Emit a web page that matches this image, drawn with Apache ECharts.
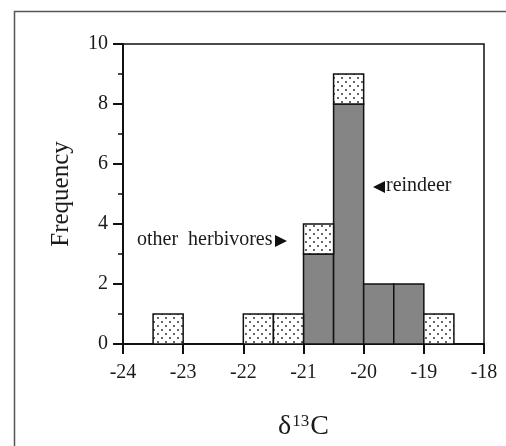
<!DOCTYPE html>
<html>
<head>
    <meta charset="utf-8">
    <title>d13C histogram</title>
    <script src="https://cdn.jsdelivr.net/npm/echarts@6/dist/echarts.min.js"></script>
    <style>
        html, body { margin: 0; padding: 0; background: #fff; }
        #chart { width: 506px; height: 446px; }
    </style>
</head>
<body>
<div id="chart"></div>
<script type="text/javascript">
    // bins (left edge, 0.5 wide) and counts
    var binStart = [-23.5, -22, -21.5, -21, -20.5, -20, -19.5, -19];
    var binWidth = 0.5;
    var reindeer = [0, 0, 0, 3, 8, 2, 2, 0];
    var others   = [1, 1, 1, 1, 1, 0, 0, 1];
    var xTicks = [-24, -23, -22, -21, -20, -19, -18];

    // dotted fill for "other herbivores"
    var tile = document.createElement('canvas');
    tile.width = 8; tile.height = 8;
    var ctx = tile.getContext('2d');
    ctx.fillStyle = '#fff';
    ctx.fillRect(0, 0, 8, 8);
    ctx.fillStyle = '#222';
    ctx.beginPath(); ctx.arc(2, 2, 0.9, 0, Math.PI * 2); ctx.fill();
    ctx.beginPath(); ctx.arc(6, 6, 0.9, 0, Math.PI * 2); ctx.fill();
    var dots = { image: tile, repeat: 'repeat' };

    var reindeerData = [], otherData = [];
    for (var i = 0; i < binStart.length; i++) {
        var x0 = binStart[i], x1 = binStart[i] + binWidth;
        if (reindeer[i] > 0) reindeerData.push([x0, x1, 0, reindeer[i]]);
        if (others[i] > 0) otherData.push([x0, x1, reindeer[i], reindeer[i] + others[i]]);
    }

    function makeRender(fill) {
        return function (params, api) {
            var p0 = api.coord([api.value(0), api.value(3)]);
            var p1 = api.coord([api.value(1), api.value(2)]);
            return {
                type: 'rect',
                shape: { x: p0[0], y: p0[1], width: p1[0] - p0[0], height: p1[1] - p0[1] },
                style: { fill: fill, stroke: '#111', lineWidth: 1.5 }
            };
        };
    }

    var serif = '"Liberation Serif", "DejaVu Serif", serif';
    var myChart = echarts.init(document.getElementById('chart'));

    var option = {
        animation: false,
        backgroundColor: '#fff',
        grid: {
            left: 123, right: 22, top: 44, bottom: 102,
            show: true, borderColor: '#111', borderWidth: 1.5
        },
        xAxis: {
            type: 'value',
            min: -24, max: -18, interval: 1,
            name: '{d|δ}{s|13}{d|C}',
            nameLocation: 'middle',
            nameGap: 69,
            nameTextStyle: {
                rich: {
                    d: { fontFamily: serif, fontSize: 28, color: '#1a1a1a' },
                    s: { fontFamily: serif, fontSize: 17, color: '#1a1a1a', verticalAlign: 'top', padding: [0, 1, 9, 1] }
                }
            },
            axisLine: { lineStyle: { color: '#111', width: 2 } },
            axisTick: { length: 10, lineStyle: { color: '#111', width: 2 } },
            axisLabel: {
                margin: 19, fontFamily: serif, fontSize: 20, color: '#1a1a1a',
                formatter: function (v) { return xTicks.indexOf(v) >= 0 ? String(v) : ''; }
            },
            splitLine: { show: false }
        },
        yAxis: {
            type: 'value',
            min: 0, max: 10, interval: 2,
            name: 'Frequency',
            nameLocation: 'middle',
            nameRotate: 90,
            nameGap: 49,
            nameTextStyle: { fontFamily: serif, fontSize: 25, color: '#1a1a1a' },
            axisLine: { show: true, lineStyle: { color: '#111', width: 2 } },
            axisTick: { show: true, length: 10, lineStyle: { color: '#111', width: 2 } },
            minorTick: { show: true, splitNumber: 2, length: 5, lineStyle: { color: '#111', width: 1.5 } },
            axisLabel: { margin: 15, fontFamily: serif, fontSize: 20, color: '#1a1a1a' },
            splitLine: { show: false }
        },
        graphic: [
            {
                type: 'rect', left: 12, top: 9, silent: true, z: -1,
                shape: { width: 600, height: 600 },
                style: { fill: 'none', stroke: '#555', lineWidth: 1.5 }
            },
            {
                type: 'text', left: 137, top: 230,
                style: { text: 'other  herbivores', font: '20px ' + serif, fill: '#1a1a1a' }
            },
            {
                type: 'polygon',
                shape: { points: [[275, 235], [287, 241], [275, 247]] },
                style: { fill: '#111' }
            },
            {
                type: 'polygon',
                shape: { points: [[385, 181], [373, 187], [385, 193]] },
                style: { fill: '#111' }
            },
            {
                type: 'text', left: 386, top: 176,
                style: { text: 'reindeer', font: '20px ' + serif, fill: '#1a1a1a' }
            }
        ],
        series: [
            {
                name: 'reindeer',
                type: 'custom',
                renderItem: makeRender('#858585'),
                encode: { x: [0, 1], y: [2, 3] },
                data: reindeerData
            },
            {
                name: 'other herbivores',
                type: 'custom',
                renderItem: makeRender(dots),
                encode: { x: [0, 1], y: [2, 3] },
                data: otherData
            }
        ]
    };

    myChart.setOption(option);
</script>
</body>
</html>
